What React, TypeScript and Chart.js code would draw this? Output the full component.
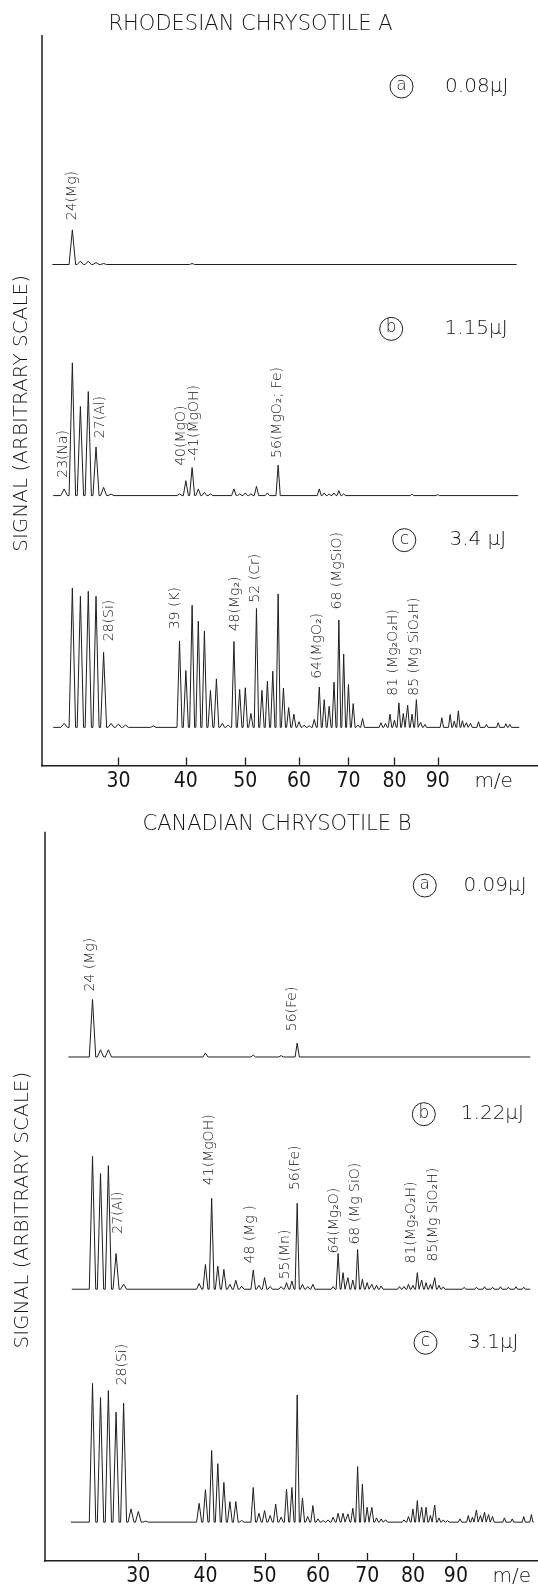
import React, { useEffect, useRef } from 'react';
import { Chart, registerables, LinearScale } from 'chart.js';

Chart.register(...registerables);

// x axis of the spectrometer: pixel position proportional to sqrt(m/e)
class SqrtScale extends LinearScale {
  static id = 'sqrt';
  static defaults = LinearScale.defaults;
  getPixelForValue(value: number): number {
    const lo = Math.sqrt(this.min);
    const hi = Math.sqrt(this.max);
    return this.getPixelForDecimal((Math.sqrt(Math.max(0, value)) - lo) / (hi - lo));
  }
  getValueForPixel(pixel: number): number {
    const lo = Math.sqrt(this.min);
    const hi = Math.sqrt(this.max);
    const s = lo + this.getDecimalForPixel(pixel) * (hi - lo);
    return s * s;
  }
}
Chart.register(SqrtScale);

type Peak = [number, number];

// ---------- data ----------
const MASS_TICKS = [30, 40, 50, 60, 70, 80, 90];

// Rhodesian chrysotile A  (peaks: [m/e, signal])
const RA_SPAN_A = [21.6, 109.8];
const RA_PEAKS_A: Peak[] = [[24, 35], [25, 3.4], [26, 3.4], [27, 2], [28, 1], [41, 1]];
const RA_SPAN_B = [21.7, 110.2];
const RA_PEAKS_B: Peak[] = [
  [23, 6.7], [24, 134], [25, 90], [26, 105], [27, 49], [28, 8.3], [29, 1.5],
  [39, 1.7], [40, 15], [41, 28.3], [42, 6.7], [43, 3.3], [44, 1.7],
  [48, 6.7], [49, 1.7], [50, 2.7], [51, 1.7], [52, 9.3], [54, 2.7], [56, 30.7],
  [64, 6.7], [65, 2.7], [66, 1.7], [67, 2.7], [68, 5], [69, 1.7], [84, 1.5], [90, 1],
];
const RA_SPAN_C = [21.7, 110.5];
const RA_PEAKS_C: Peak[] = [
  [23, 4], [24, 140.7], [25, 132.3], [26, 137.3], [27, 132.3], [28, 75.7], [29, 4], [30, 3.3], [31, 2.3], [35, 1.5],
  [39, 87.3], [40, 57.3], [41, 123.3], [42, 107.3], [43, 97.3], [44, 37.3], [45, 49], [46, 4], [47, 2.3],
  [48, 86.7], [49, 38.3], [50, 40], [51, 14], [52, 120], [53, 37.3], [54, 46.7], [55, 56.7], [56, 134.7],
  [57, 39.7], [58, 20], [59, 13.3], [60, 5.7], [61, 2.3], [62, 1.7], [63, 8], [64, 40.7], [65, 28], [66, 21.3],
  [67, 45.7], [68, 108.3], [69, 74], [70, 43.3], [71, 24], [72, 2.3], [73, 9], [77, 4.7], [78, 4], [79, 13.3],
  [80, 7.3], [81, 24.7], [82, 14], [83, 22.3], [84, 13.3], [85, 28], [86, 5], [87, 3], [91, 9.7], [93, 13],
  [94, 6.3], [95, 16.7], [96, 6.7], [97, 4.7], [98, 4], [100, 5.7], [102, 3], [105, 4.7], [107, 3.7], [108, 3],
];

// Canadian chrysotile B
const CB_SPAN_A = [21.1, 108.7];
const CB_PEAKS_A: Peak[] = [[24, 58], [25, 7.3], [26, 7.3], [40, 4], [48, 2], [53, 1.5], [56, 14]];
const CB_SPAN_B = [21.5, 108.7];
const CB_PEAKS_B: Peak[] = [
  [24, 134], [25, 116.7], [26, 124.7], [27, 36], [28, 5], [39, 5.7], [40, 25], [41, 91.7], [42, 23.3],
  [43, 20], [44, 5], [45, 9], [46, 3], [48, 19.3], [49, 4], [50, 11.7], [51, 2.7], [53, 2.7], [54, 6.7],
  [55, 8.3], [56, 86.7], [57, 5], [58, 2.7], [59, 5], [63, 2.7], [64, 36], [65, 16.7], [66, 11.7], [67, 9.3],
  [68, 40], [69, 10], [70, 6.7], [71, 5], [72, 4], [73, 3.3], [77, 2.7], [78, 2.7], [79, 5], [80, 4],
  [81, 16.7], [82, 9.3], [83, 6.7], [84, 5], [85, 11.7], [86, 4], [87, 2.3], [92, 2], [95, 2], [97, 2.5],
  [99, 2], [101, 2.5], [103, 2], [105, 2.5], [107, 2],
];
const CB_SPAN_C = [21.4, 109.6];
const CB_PEAKS_C: Peak[] = [
  [24, 140], [25, 125.7], [26, 132.7], [27, 111], [28, 120], [29, 13.3], [30, 10.7], [31, 1],
  [39, 19], [40, 32.7], [41, 72.3], [42, 59], [43, 40], [44, 20.7], [45, 20.7], [46, 1.7],
  [48, 35], [49, 9], [50, 11.7], [51, 6.7], [52, 18.3], [53, 5], [54, 33.3], [55, 35], [56, 128.3],
  [57, 24.3], [58, 5.7], [59, 16.7], [60, 3.3], [61, 1.7], [62, 2.3], [63, 5], [64, 9], [65, 9], [66, 8.3],
  [67, 14], [68, 56], [69, 38.3], [70, 15], [71, 15], [72, 4.3], [73, 3.3], [74, 2.3], [78, 2.3], [79, 5.7],
  [80, 13.3], [81, 21.7], [82, 15], [83, 15], [84, 6.7], [85, 17.3], [86, 4.3], [87, 2.3], [88, 1.7],
  [91, 3.3], [93, 6.7], [94, 5], [95, 12.3], [96, 6.7], [97, 10], [98, 7.7], [99, 5.7], [102, 4.3],
  [104, 3.3], [107, 5.7], [109, 7.7],
];

// peak labels: trace, m/e of peak, signal level of label start, text
const RA_LABELS = [
  { t: 'a', m: 24, y: 44.7, dx: 0, text: '24(Mg)' },
  { t: 'b', m: 23, y: 18, dx: -1, text: '23(Na)' },
  { t: 'b', m: 27, y: 58, dx: 4, text: '27(Al)' },
  { t: 'b', m: 40, y: 30, dx: -5, text: '40(MgO)' },
  { t: 'b', m: 41, y: 35, dx: 2.5, text: '-41(MgOH)' },
  { t: 'b', m: 56, y: 38, dx: -1, text: '56(MgO\u2082; Fe)' },
  { t: 'c', m: 28, y: 87, dx: 6, text: '28(Si)' },
  { t: 'c', m: 39, y: 99, dx: -4, text: '39 (K)' },
  { t: 'c', m: 48, y: 97, dx: 1, text: '48(Mg\u2082)' },
  { t: 'c', m: 52, y: 126, dx: -1, text: '52 (Cr)' },
  { t: 'c', m: 64, y: 49, dx: -2, text: '64(MgO\u2082)' },
  { t: 'c', m: 68, y: 119, dx: -1.5, text: '68 (MgSiO)' },
  { t: 'c', m: 81, y: 32, dx: -6, text: '81 (Mg\u2082O\u2082H)' },
  { t: 'c', m: 85, y: 32, dx: -2, text: '85 (Mg SiO\u2082H)' },
];
const CB_LABELS = [
  { t: 'a', m: 24, y: 66, dx: -2.6, text: '24 (Mg)' },
  { t: 'a', m: 56, y: 26, dx: -5, text: '56(Fe)' },
  { t: 'b', m: 27, y: 56, dx: 2.4, text: '27(Al)' },
  { t: 'b', m: 41, y: 105, dx: -2.3, text: '41(MgOH)' },
  { t: 'b', m: 48, y: 26, dx: -2.7, text: '48 (Mg )' },
  { t: 'b', m: 55, y: 10, dx: -6.4, text: '55(Mn)' },
  { t: 'b', m: 56, y: 100, dx: -2, text: '56(Fe)' },
  { t: 'b', m: 64, y: 36, dx: -3.5, text: '64(Mg\u2082O)' },
  { t: 'b', m: 68, y: 45, dx: -2.4, text: '68 (Mg SiO)' },
  { t: 'b', m: 81, y: 26, dx: -6.2, text: '81(Mg\u2082O\u2082H)' },
  { t: 'b', m: 85, y: 28, dx: -1.6, text: '85(Mg SiO\u2082H)' },
  { t: 'c', m: 28, y: 138, dx: -1, text: '28(Si)' },
];

// pulse energy tags for each trace
const RA_TAGS = [
  { t: 'a', letter: 'a', energy: '0.08\u03bcJ', y: 179.7, cx: 401.5, tx: 476.7 },
  { t: 'b', letter: 'b', energy: '1.15\u03bcJ', y: 168.3, cx: 391.2, tx: 476 },
  { t: 'c', letter: 'c', energy: '3.4 \u03bcJ', y: 189, cx: 404.3, tx: 477.8 },
];
const CB_TAGS = [
  { t: 'a', letter: 'a', energy: '0.09\u03bcJ', y: 173, cx: 424.8, tx: 495 },
  { t: 'b', letter: 'b', energy: '1.22\u03bcJ', y: 176.6, cx: 423.8, tx: 492.4 },
  { t: 'c', letter: 'c', energy: '3.1\u03bcJ', y: 181, cx: 425.5, tx: 493.3 },
];

// ---------- styling / layout ----------
const INK = '#1e1e1e';
const TEXT = '#141414';
const FAMILY = '"DejaVu Sans", "Liberation Sans", sans-serif';
const TICK_FAMILY = '"DejaVu Sans Condensed", "DejaVu Sans", sans-serif';
const WEIGHT = 300;

const PANELS = [
  {
    key: 'ra', top: 0, height: 800, title: 'RHODESIAN CHRYSOTILE A', titleX: 250.5, titleY: 30,
    xMin: 20.41, xMax: 115.5, pad: { top: 35, left: 0, right: 0, bottom: 1.5 }, tickPad: 6,
    yTitlePad: { top: 9.7, bottom: 8.3 },
    axes: {
      a: { min: -23.3, max: 231.7, weight: 255 },
      b: { min: -44, max: 210, weight: 254 },
      c: { min: -38.5, max: 190, weight: 228.5 },
    },
    traces: { a: [RA_SPAN_A, RA_PEAKS_A], b: [RA_SPAN_B, RA_PEAKS_B], c: [RA_SPAN_C, RA_PEAKS_C] },
    labels: RA_LABELS, tags: RA_TAGS,
  },
  {
    key: 'cb', top: 800, height: 793, title: 'CANADIAN CHRYSOTILE B', titleX: 277, titleY: 30,
    xMin: 18.48, xMax: 110.75, pad: { top: 31.7, left: 0, right: 0, bottom: 0 }, tickPad: 5.5,
    yTitlePad: { top: 11, bottom: 10 },
    axes: {
      a: { min: -28, max: 227.3, weight: 255.3 },
      b: { min: -46.7, max: 206.3, weight: 253 },
      c: { min: -39.2, max: 188.3, weight: 227.5 },
    },
    traces: { a: [CB_SPAN_A, CB_PEAKS_A], b: [CB_SPAN_B, CB_PEAKS_B], c: [CB_SPAN_C, CB_PEAKS_C] },
    labels: CB_LABELS, tags: CB_TAGS,
  },
];

const PEAK_HALF_WIDTH = 0.4;

function buildTrace(span: number[], peaks: Peak[]) {
  const pts: { x: number; y: number }[] = [{ x: span[0], y: 0 }];
  for (const [m, h] of peaks) {
    pts.push({ x: m - PEAK_HALF_WIDTH, y: 0 }, { x: m, y: h }, { x: m + PEAK_HALF_WIDTH, y: 0 });
  }
  pts.push({ x: span[1], y: 0 });
  return pts;
}

function makeOverlay(panel: any) {
  return {
    id: 'overlay-' + panel.key,
    afterDraw(chart: any) {
      const { ctx, chartArea } = chart;
      const xs = chart.scales.x;
      ctx.save();
      ctx.fillStyle = TEXT;
      ctx.strokeStyle = INK;

      // single continuous signal axis line
      ctx.lineWidth = 1.5;
      ctx.beginPath();
      ctx.moveTo(chartArea.left, chartArea.top);
      ctx.lineTo(chartArea.left, chartArea.bottom + 0.75);
      ctx.stroke();

      // panel title
      ctx.font = `${WEIGHT} 21px ${FAMILY}`;
      ctx.textAlign = 'center';
      ctx.textBaseline = 'alphabetic';
      ctx.fillText(panel.title, panel.titleX, panel.titleY);

      // inward tick marks
      const axisY = chartArea.bottom;
      ctx.lineWidth = 1.3;
      xs.ticks.forEach((_: any, i: number) => {
        const px = Math.round(xs.getPixelForTick(i)) + 0.5;
        ctx.beginPath();
        ctx.moveTo(px, axisY);
        ctx.lineTo(px, axisY - 8);
        ctx.stroke();
      });

      // m/e axis name
      ctx.font = `${WEIGHT} 20px ${FAMILY}`;
      ctx.textBaseline = 'middle';
      ctx.fillText('m/e', xs.getPixelForValue(MASS_TICKS[MASS_TICKS.length - 1]) + 56, axisY + 16);

      // peak labels (rotated)
      ctx.font = `${WEIGHT} 14px ${FAMILY}`;
      for (const l of panel.labels) {
        const ys = chart.scales['y' + l.t];
        const px = xs.getPixelForValue(l.m) + l.dx;
        const py = ys.getPixelForValue(l.y);
        ctx.save();
        ctx.translate(px, py);
        ctx.rotate(-Math.PI / 2);
        ctx.textAlign = 'left';
        ctx.textBaseline = 'middle';
        ctx.fillText(l.text, 0, 0);
        ctx.restore();
      }

      // circled letters and pulse energies
      for (const g of panel.tags) {
        const ys = chart.scales['y' + g.t];
        const cy = ys.getPixelForValue(g.y);
        ctx.lineWidth = 1;
        ctx.beginPath();
        ctx.arc(g.cx, cy, 11.5, 0, Math.PI * 2);
        ctx.stroke();
        ctx.textAlign = 'center';
        ctx.textBaseline = 'middle';
        ctx.font = `${WEIGHT} 17px ${FAMILY}`;
        ctx.fillText(g.letter, g.cx, cy - 1);
        ctx.font = `${WEIGHT} 20px ${FAMILY}`;
        ctx.fillText(g.energy, g.tx, cy);
      }
      ctx.restore();
    },
  };
}

function yAxis(panel: any, t: string, withTitle: boolean) {
  const a = panel.axes[t];
  return {
    type: 'linear',
    position: 'left',
    stack: 'signal',
    stackWeight: a.weight,
    min: a.min,
    max: a.max,
    bounds: 'data',
    ticks: { display: false },
    grid: { display: false, drawTicks: false },
    border: { display: false },
    title: {
      display: withTitle,
      text: 'SIGNAL (ARBITRARY SCALE)',
      color: TEXT,
      font: { family: FAMILY, size: 20, weight: WEIGHT, lineHeight: 1.2 },
      padding: panel.yTitlePad,
    },
  };
}

function SpectrumPanel({ panel }: { panel: any }) {
  const ref = useRef<HTMLCanvasElement | null>(null);
  useEffect(() => {
    if (!ref.current) return;
    const datasets = ['a', 'b', 'c'].map((t) => ({
      label: t,
      data: buildTrace(panel.traces[t][0], panel.traces[t][1]),
      xAxisID: 'x',
      yAxisID: 'y' + t,
      borderColor: INK,
      borderWidth: 1,
      pointRadius: 0,
      fill: false,
      tension: 0,
    }));
    const chart = new Chart(ref.current, {
      type: 'line',
      data: { datasets },
      options: {
        animation: false,
        responsive: false,
        devicePixelRatio: 1,
        events: [],
        layout: { padding: panel.pad },
        plugins: { legend: { display: false }, tooltip: { enabled: false }, title: { display: false } },
        scales: {
          x: {
            type: 'sqrt',
            position: 'bottom',
            min: panel.xMin,
            max: panel.xMax,
            bounds: 'data',
            afterBuildTicks: (scale: any) => {
              scale.ticks = MASS_TICKS.map((v) => ({ value: v }));
            },
            ticks: {
              autoSkip: false,
              maxRotation: 0,
              padding: panel.tickPad,
              color: TEXT,
              font: { family: TICK_FAMILY, size: 21, weight: WEIGHT, lineHeight: 1 },
              callback: (v: any) => String(v),
            },
            grid: { display: false, drawTicks: false },
            border: { display: true, color: INK, width: 1.5 },
          },
          yc: yAxis(panel, 'c', false),
          yb: yAxis(panel, 'b', true),
          ya: yAxis(panel, 'a', false),
        } as any,
      },
      plugins: [makeOverlay(panel)],
    } as any);
    return () => chart.destroy();
  }, [panel]);
  return (
    <canvas
      ref={ref}
      width={538}
      height={panel.height}
      style={{ position: 'absolute', left: 0, top: panel.top, width: 538, height: panel.height, display: 'block' }}
    />
  );
}

export default function App() {
  return (
    <div style={{ position: 'absolute', left: 0, top: 0, width: 538, height: 1593, background: '#ffffff', overflow: 'hidden' }}>
      {PANELS.map((p) => (
        <SpectrumPanel key={p.key} panel={p} />
      ))}
    </div>
  );
}
